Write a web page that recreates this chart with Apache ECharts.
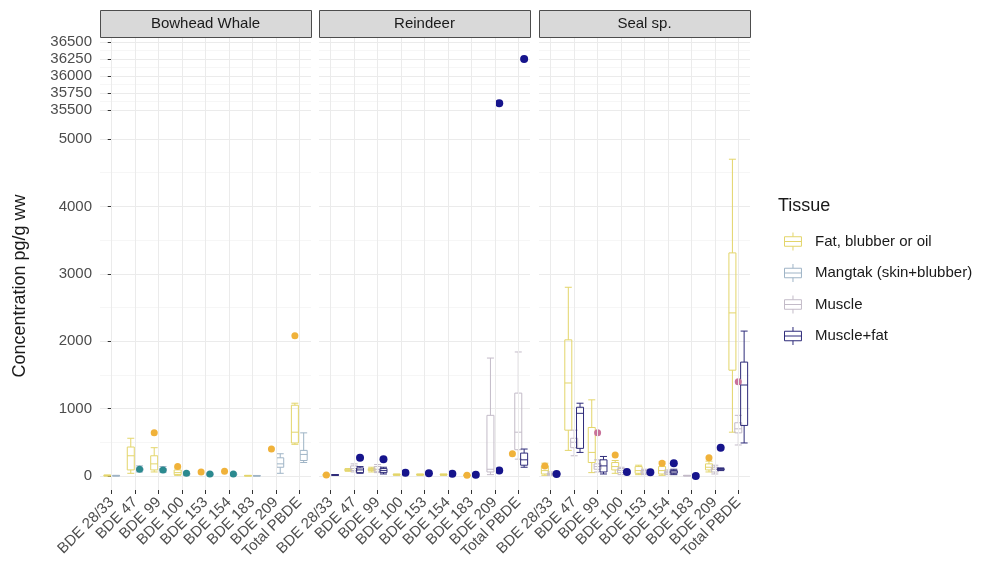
<!DOCTYPE html>
<html>
<head>
<meta charset="utf-8">
<script src="https://cdn.jsdelivr.net/npm/echarts@6/dist/echarts.min.js"></script>
<style>
  html, body { margin: 0; padding: 0; background: #fff; }
  #chart { width: 986px; height: 564px; }
</style>
</head>
<body>
<div id="chart"></div>
<script>
var congeners = ['BDE 28/33', 'BDE 47', 'BDE 99', 'BDE 100', 'BDE 153', 'BDE 154', 'BDE 183', 'BDE 209', 'Total PBDE'];
var facetNames = ['Bowhead Whale', 'Reindeer', 'Seal sp.'];
var tissues = ['Fat, blubber or oil', 'Mangtak (skin+blubber)', 'Muscle', 'Muscle+fat'];
var lowTicks = [0, 1000, 2000, 3000, 4000, 5000];
var highTicks = [35500, 35750, 36000, 36250, 36500];

// boxes: [congener index, min, Q1, median, Q3, max]
var whaleFatBoxes = [[0, 0, 3, 6, 10, 15], [1, 40, 90, 300, 430, 560], [2, 60, 90, 180, 300, 420],
  [3, 10, 20, 50, 90, 120], [6, 0, 2, 4, 6, 10], [8, 470, 490, 650, 1050, 1080]];
var whaleMangtakBoxes = [[0, 0, 2, 4, 6, 10], [1, 60, 80, 100, 115, 150], [2, 50, 70, 90, 110, 140],
  [3, 10, 20, 35, 45, 60], [4, 10, 15, 25, 35, 45], [5, 10, 15, 25, 35, 45], [6, 0, 1, 3, 5, 8],
  [7, 40, 130, 180, 270, 330], [8, 200, 230, 320, 380, 640]];
var reindeerFatBoxes = [[0, 5, 10, 15, 20, 25], [1, 70, 80, 90, 100, 110], [2, 60, 80, 95, 110, 130],
  [3, 10, 15, 20, 25, 30], [4, 10, 15, 20, 25, 30], [5, 10, 15, 20, 25, 30], [6, 5, 8, 10, 12, 15]];
var reindeerMuscleBoxes = [[1, 60, 80, 110, 150, 180], [2, 50, 70, 100, 140, 170],
  [7, 20, 60, 100, 900, 1750], [8, 250, 390, 650, 1230, 1840]];
var reindeerMuscleFatBoxes = [[0, 10, 12, 15, 18, 20], [1, 40, 50, 90, 120, 140], [2, 30, 50, 80, 110, 130],
  [8, 130, 160, 240, 340, 400]];
var sealFatBoxes = [[0, 10, 30, 80, 150, 190], [1, 380, 680, 1380, 2020, 2800], [2, 50, 200, 350, 720, 1130],
  [3, 40, 90, 140, 200, 230], [4, 20, 40, 80, 140, 160], [5, 10, 30, 80, 140, 210],
  [7, 60, 90, 130, 180, 220], [8, 650, 1570, 2420, 3310, 4700]];
var sealMuscleBoxes = [[0, 10, 20, 30, 40, 60], [1, 300, 420, 500, 560, 680], [2, 60, 100, 140, 180, 240],
  [3, 20, 50, 80, 110, 130], [4, 20, 40, 60, 80, 100], [5, 20, 30, 50, 70, 90], [6, 0, 2, 5, 8, 10],
  [7, 30, 60, 100, 130, 160], [8, 460, 640, 700, 790, 900]];
var sealMuscleFatBoxes = [[0, 20, 25, 30, 35, 40], [1, 350, 410, 930, 1020, 1080], [2, 30, 60, 150, 240, 290],
  [5, 20, 40, 60, 80, 100], [7, 80, 90, 100, 110, 120], [8, 490, 750, 1350, 1690, 2150]];

// points: [congener index, value]
var whaleFatPoints = [[2, 640], [3, 140], [4, 60], [5, 70], [7, 400], [8, 2080]];
var whaleMangtakPoints = [[1, 100], [2, 90], [3, 40], [4, 30], [5, 30]];
var reindeerFatPoints = [[0, 15], [6, 10], [8, 330]];
var reindeerMuscleFatPoints = [[1, 270], [2, 250], [3, 50], [4, 40], [5, 35], [6, 20], [7, 80], [7, 35600], [8, 36250]];
var sealFatPoints = [[0, 150], [3, 310], [5, 190], [7, 270]];
var sealMusclePoints = [[2, 640], [8, 1400]];
var sealMuscleFatPoints = [[0, 30], [3, 60], [4, 55], [5, 190], [6, 0], [7, 420]];

var facetBoxes = [
  [whaleFatBoxes, whaleMangtakBoxes, [], []],
  [reindeerFatBoxes, [], reindeerMuscleBoxes, reindeerMuscleFatBoxes],
  [sealFatBoxes, [], sealMuscleBoxes, sealMuscleFatBoxes]
];
var facetPoints = [
  [whaleFatPoints, whaleMangtakPoints, [], []],
  [reindeerFatPoints, [], [], reindeerMuscleFatPoints],
  [sealFatPoints, [], sealMusclePoints, sealMuscleFatPoints]
];

var boxColors = ['#e3d56a', '#9fb4c6', '#c3bbc8', '#2e2b7a'];
var pointColors = ['#f0b23a', '#2b8a8f', '#c8729a', '#16148c'];
var pointSizes = [7, 7, 7, 8];
var FONT = '"Liberation Sans", Arial, sans-serif';
var panelLeft = [100, 319, 539];
var panelWidth = 211;
var breakValue = 5000;

var myChart = echarts.init(document.getElementById('chart'));

// dodge like ggplot: groups present at each congener share 0.75 of the band
function dodgeOffsets(f) {
  var table = [];
  for (var c = 0; c < congeners.length; c++) {
    var present = [];
    for (var t = 0; t < tissues.length; t++) {
      var has = facetBoxes[f][t].some(function (b) { return b[0] === c; }) ||
        facetPoints[f][t].some(function (p) { return p[0] === c; });
      if (has) present.push(t);
    }
    var row = {};
    present.forEach(function (t, k) {
      row[t] = -0.375 + (k + 0.5) * 0.75 / present.length;
    });
    table.push(row);
  }
  return table;
}

var grids = [], xAxes = [], yAxes = [], series = [], graphics = [];
var axisText = { color: '#4d4d4d', fontSize: 15, fontFamily: FONT };

facetNames.forEach(function (name, f) {
  var g = f * 3;
  var left = panelLeft[f];
  grids.push({ left: left, width: panelWidth, top: 38, height: 452, outerBoundsMode: 'none' });
  grids.push({ left: left, width: panelWidth, top: 139, height: 337, outerBoundsMode: 'none' });
  grids.push({ left: left, width: panelWidth, top: 42, height: 68, outerBoundsMode: 'none' });

  xAxes.push({
    gridIndex: g, type: 'category', data: congeners, boundaryGap: true,
    axisLine: { show: false },
    axisTick: { show: true, alignWithLabel: true, length: 4, lineStyle: { color: '#333' } },
    axisLabel: Object.assign({ rotate: 45, margin: 10, interval: 0 }, axisText),
    splitLine: { show: false }
  });
  xAxes.push({ gridIndex: g + 1, type: 'value', min: -0.5, max: 8.5, show: false });
  xAxes.push({ gridIndex: g + 2, type: 'value', min: -0.5, max: 8.5, show: false });

  yAxes.push({ gridIndex: g, type: 'value', min: 0, max: 1, show: false });
  yAxes.push({
    gridIndex: g + 1, type: 'value', min: lowTicks[0], max: lowTicks[lowTicks.length - 1], interval: 1000,
    axisLine: { show: false },
    axisTick: { show: f === 0, length: 4, lineStyle: { color: '#333' } },
    axisLabel: Object.assign({ show: f === 0, margin: 8, formatter: function (v) { return String(v); } }, axisText),
    splitLine: { show: true, lineStyle: { color: '#ebebeb', width: 1 } },
    minorTick: { show: false, splitNumber: 2 },
    minorSplitLine: { show: true, lineStyle: { color: '#f6f6f6', width: 1 } }
  });
  yAxes.push({
    gridIndex: g + 2, type: 'value', min: highTicks[0], max: highTicks[highTicks.length - 1], interval: 250,
    axisLine: { show: false },
    axisTick: { show: f === 0, length: 4, lineStyle: { color: '#333' } },
    axisLabel: Object.assign({ show: f === 0, margin: 8, formatter: function (v) { return String(v); } }, axisText),
    splitLine: { show: true, lineStyle: { color: '#ebebeb', width: 1 } },
    minorTick: { show: false, splitNumber: 2 },
    minorSplitLine: { show: true, lineStyle: { color: '#f6f6f6', width: 1 } }
  });

  // vertical grid lines at congener centres
  series.push({
    type: 'line', xAxisIndex: g, yAxisIndex: g, data: [], silent: true,
    markLine: {
      silent: true, symbol: ['none', 'none'], label: { show: false },
      lineStyle: { type: 'solid', color: '#ebebeb', width: 1 },
      data: congeners.map(function (c) { return { xAxis: c }; })
    }
  });

  var offsets = dodgeOffsets(f);
  var boxData = [];
  tissues.forEach(function (tname, t) {
    facetBoxes[f][t].forEach(function (b) {
      boxData.push({
        value: [b[0] + offsets[b[0]][t]].concat(b.slice(1)),
        itemStyle: { color: 'rgba(255,255,255,0)', borderColor: boxColors[t], borderWidth: 1 }
      });
    });
  });
  series.push({
    type: 'boxplot', name: 'box ' + name, layout: 'horizontal',
    xAxisIndex: g + 1, yAxisIndex: g + 1, boxWidth: [7, 7], silent: true,
    data: boxData
  });

  tissues.forEach(function (tname, t) {
    var pts = facetPoints[f][t];
    var low = pts.filter(function (p) { return p[1] <= breakValue; })
      .map(function (p) { return [p[0] + offsets[p[0]][t], p[1]]; });
    var high = pts.filter(function (p) { return p[1] > breakValue; })
      .map(function (p) { return [p[0] + offsets[p[0]][t], p[1]]; });
    series.push({
      type: 'scatter', name: tname, xAxisIndex: g + 1, yAxisIndex: g + 1, clip: false,
      symbolSize: pointSizes[t], itemStyle: { color: pointColors[t], opacity: 1 }, data: low, silent: true
    });
    series.push({
      type: 'scatter', name: tname, xAxisIndex: g + 2, yAxisIndex: g + 2, clip: false,
      symbolSize: pointSizes[t], itemStyle: { color: pointColors[t], opacity: 1 }, data: high, silent: true
    });
  });

  // facet strip
  graphics.push({
    type: 'rect', left: left, top: 10,
    shape: { width: panelWidth, height: 27 },
    style: { fill: '#d9d9d9', stroke: '#4d4d4d', lineWidth: 1 }
  });
  graphics.push({
    type: 'text', x: left + panelWidth / 2, y: 24,
    style: { text: name, fill: '#1a1a1a', font: '15px ' + FONT, align: 'center', verticalAlign: 'middle' }
  });
});

graphics.push({
  type: 'text', x: 20, y: 286, rotation: Math.PI / 2,
  style: { text: 'Concentration pg/g ww', fill: '#1a1a1a', font: '18px ' + FONT, align: 'center', verticalAlign: 'middle' }
});
graphics.push({
  type: 'text', x: 778, y: 206,
  style: { text: 'Tissue', fill: '#1a1a1a', font: '18px ' + FONT, align: 'left', verticalAlign: 'middle' }
});

var boxIcon = 'path://M9,0L9,4M1,4L17,4L17,13L1,13ZM1,8.5L17,8.5M9,13L9,17';

var option = {
  animation: false,
  backgroundColor: '#fff',
  grid: grids,
  xAxis: xAxes,
  yAxis: yAxes,
  legend: {
    orient: 'vertical', left: 779, top: 227,
    itemWidth: 22, itemHeight: 18, itemGap: 12.5, selectedMode: false,
    textStyle: { color: '#1a1a1a', fontSize: 15, fontFamily: FONT, padding: [0, 0, 0, 6] },
    data: tissues.map(function (t, i) {
      return {
        name: t, icon: boxIcon,
        itemStyle: { color: 'rgba(255,255,255,0)', borderColor: boxColors[i], borderWidth: 1 }
      };
    })
  },
  graphic: graphics,
  series: series
};
myChart.setOption(option);
</script>
</body>
</html>
